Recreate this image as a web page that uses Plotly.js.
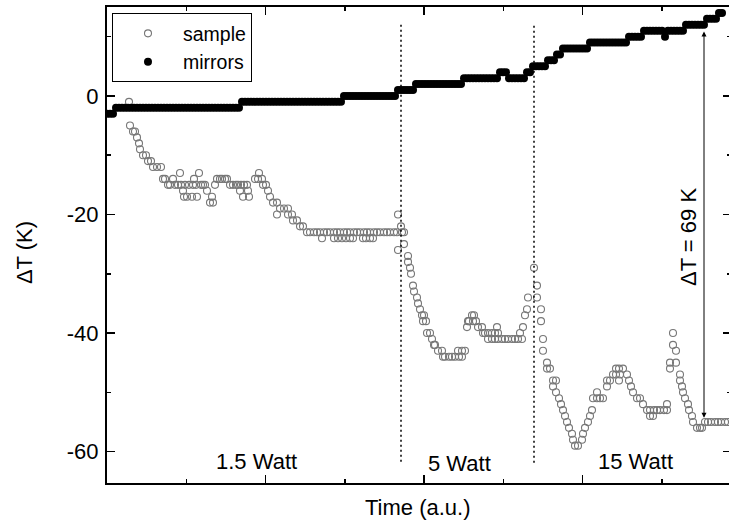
<!DOCTYPE html>
<html>
<head>
<meta charset="utf-8">
<script src="https://cdn.plot.ly/plotly-3.0.1.min.js"></script>
<style>html,body{margin:0;padding:0;overflow:hidden;background:#fff;}</style>
</head>
<body>
<div id="chart" style="width:731px;height:524px;"></div>
<script>
// ---- data (time in arbitrary units) ----
const sampleTime = [
22,23,26,28,30,32,33,36,39,41,
44,46,50,54,56,58,61,63,66,68,
71,73,74,76,77,78,80,82,85,86,
87,89,90,92,94,96,98,100,103,105,
106,108,110,113,115,118,120,123,126,129,
131,133,134,136,137,140,141,142,148,151,
152,155,156,159,161,163,166,170,170,173,
177,181,181,185,186,190,193,196,200,203,
207,210,213,215,217,220,223,227,227,230,
231,233,235,237,239,240,243,243,246,247,
250,253,256,257,259,260,263,263,266,267,
270,273,277,280,283,287,290,291,291,294,
295,297,297,301,301,303,304,306,307,310,
311,313,315,316,317,319,320,323,325,327,
328,331,335,336,338,342,345,348,351,352,
355,355,358,360,361,362,365,366,367,369,
371,375,376,378,381,381,385,385,388,388,
390,391,391,395,398,401,405,408,411,413,
415,416,418,420,421,427,430,430,434,434,
436,436,440,440,443,446,446,449,449,452,
454,456,458,460,462,465,466,468,471,475,
476,478,481,483,485,486,490,490,493,496,
500,500,503,506,509,509,512,512,513,516,
520,522,524,526,530,533,536,540,543,543,
546,547,550,553,557,560,560,563,563,566,
566,569,569,573,573,575,576,578,581,582,
585,586,590,593,595,598,601,604,608,611,
614,618,621];
const sampleDT = [
-1,-5,-6,-6,-7,-8,-9,-10,-10,-11,
-11,-12,-12,-12,-14,-14,-15,-15,-14,-15,
-15,-13,-15,-16,-17,-15,-17,-15,-17,-15,
-14,-15,-17,-13,-15,-15,-15,-16,-18,-17,
-18,-15,-14,-14,-14,-14,-14,-15,-15,-15,
-15,-16,-15,-17,-15,-15,-16,-17,-14,-14,
-13,-14,-15,-15,-16,-17,-18,-18,-20,-19,
-19,-19,-20,-20,-21,-21,-22,-22,-23,-23,
-23,-23,-23,-24,-23,-23,-23,-23,-24,-23,
-24,-23,-24,-23,-24,-23,-23,-24,-24,-23,
-23,-23,-24,-23,-24,-23,-23,-24,-24,-23,
-23,-23,-23,-23,-23,-23,-23,-20,-26,-22,
-23,-23,-25,-27,-28,-29,-30,-32,-33,-34,
-35,-36,-37,-38,-37,-38,-40,-40,-41,-42,
-42,-43,-43,-44,-44,-44,-44,-44,-43,-44,
-44,-43,-43,-39,-38,-38,-37,-38,-37,-38,
-39,-39,-40,-40,-40,-41,-40,-41,-40,-41,
-39,-40,-41,-41,-41,-41,-41,-41,-41,-40,
-41,-39,-37,-36,-34,-29,-32,-34,-36,-38,
-41,-43,-45,-46,-46,-48,-49,-48,-50,-51,
-52,-53,-54,-55,-56,-57,-58,-59,-59,-58,
-57,-56,-55,-54,-53,-51,-51,-50,-51,-51,
-49,-48,-48,-47,-46,-47,-46,-48,-47,-46,
-47,-48,-49,-50,-51,-51,-52,-53,-53,-54,
-54,-53,-53,-53,-53,-52,-53,-45,-46,-40,
-42,-43,-45,-47,-48,-49,-50,-51,-52,-53,
-54,-55,-56,-56,-56,-55,-55,-55,-55,-55,
-55,-55,-55];

const mirrorsTime = [
0,3,6,
9,12,15,18,21,24,27,30,33,36,39,42,45,48,51,54,57,60,63,66,69,72,75,78,81,84,87,90,93,96,99,102,105,108,111,114,117,120,123,126,129,132,135,138,
141,144,147,150,153,156,159,162,165,168,171,174,177,180,183,186,189,192,195,198,201,204,207,210,213,216,219,222,225,228,231,234,237,240,
243,246,249,252,255,258,261,264,267,270,273,276,279,282,285,288,291,294,
297,300,303,306,309,312,
315,318,321,324,327,330,333,336,339,342,345,348,351,354,357,360,
363,366,369,372,375,378,381,384,387,390,393,396,
399,402,405,
408,411,414,417,420,423,
426,429,
432,435,438,441,444,
447,450,453,
456,459,
462,465,468,471,474,477,480,483,486,
489,492,495,498,501,504,507,510,513,516,519,522,525,
528,531,534,537,540,
543,546,549,552,555,558,561,
564,
567,570,573,576,579,582,
585,588,591,594,597,600,603,
606,609,612,615,
618,621];
const mirrorsDT = [
-3,-3,-3,
-2,-2,-2,-2,-2,-2,-2,-2,-2,-2,-2,-2,-2,-2,-2,-2,-2,-2,-2,-2,-2,-2,-2,-2,-2,-2,-2,-2,-2,-2,-2,-2,-2,-2,-2,-2,-2,-2,-2,-2,-2,-2,
-1,-1,-1,-1,-1,-1,-1,-1,-1,-1,-1,-1,-1,-1,-1,-1,-1,-1,-1,-1,-1,-1,-1,-1,-1,-1,-1,-1,-1,-1,-1,-1,-1,-1,
0,0,0,0,0,0,0,0,0,0,0,0,0,0,0,0,0,0,
1,1,1,1,1,1,
2,2,2,2,2,2,2,2,2,2,2,2,2,2,2,2,
3,3,3,3,3,3,3,3,3,3,3,3,
4,4,4,
3,3,3,3,3,3,
4,4,
5,5,5,5,5,
6,6,6,
7,7,
8,8,8,8,8,8,8,8,8,
9,9,9,9,9,9,9,9,9,9,9,9,9,
10,10,10,10,10,
11,11,11,11,11,11,11,
10,
11,11,11,11,11,11,
12,12,12,12,12,12,12,
13,13,13,13,
14,14];

const yTickValues = [-60, -40, -20, 0];
const yTickLabels = ['-60', '-40', '-20', '0'];

const powerSwitchTime = [294, 427];
const powerLabels = ['1.5 Watt', '5 Watt', '15 Watt'];
const powerLabelTime = [149, 352, 528];
const deltaTime = 597;
const deltaTop = 11.1;
const deltaBottom = -54.3;
const deltaLabel = 'ΔT = 69 K';

// ---- chart ----
const FONT = '"Liberation Sans", Arial, Helvetica, sans-serif';

const traces = [
  {
    x: sampleTime, y: sampleDT, name: 'sample', type: 'scatter', mode: 'markers',
    marker: {symbol: 'circle-open', size: 7, color: '#777777', line: {width: 1.1, color: '#777777'}}
  },
  {
    x: mirrorsTime, y: mirrorsDT, name: 'mirrors', type: 'scatter', mode: 'markers',
    marker: {symbol: 'circle', size: 8, color: '#000000'}
  }
];

const shapes = powerSwitchTime.map((t, i) => ({
  type: 'line', xref: 'x', yref: 'y', x0: t, x1: t,
  y0: i === 0 ? -61.7 : -61.9, y1: i === 0 ? 12.5 : 12.1,
  line: {color: '#000', width: 1.5, dash: '2px,3px'}
}));

const labelY = [-61.7, -62.0, -61.7];
const annotations = powerLabels.map((txt, i) => ({
  text: txt, xref: 'x', yref: 'y', x: powerLabelTime[i], y: labelY[i],
  showarrow: false, xanchor: 'center', yanchor: 'middle',
  font: {family: FONT, size: 22, color: '#000'}
}));

annotations.push({
  xref: 'x', yref: 'y', axref: 'x', ayref: 'y',
  x: deltaTime, y: deltaBottom, ax: deltaTime, ay: deltaTop,
  text: '', showarrow: true, arrowhead: 2, arrowside: 'end+start',
  arrowsize: 1, arrowwidth: 1, arrowcolor: '#000', standoff: 0, startstandoff: 0
});
annotations.push({
  text: deltaLabel, xref: 'x', yref: 'y', x: 581, y: -23.8, textangle: -90,
  showarrow: false, xanchor: 'center', yanchor: 'middle',
  font: {family: FONT, size: 22, color: '#000'}
});
annotations.push({
  text: 'ΔT (K)', xref: 'paper', yref: 'paper', x: -0.1330, y: 0.483, textangle: -90,
  showarrow: false, xanchor: 'center', yanchor: 'middle',
  font: {family: FONT, size: 22, color: '#000'}
});
annotations.push({
  text: 'Time (a.u.)', xref: 'paper', yref: 'paper', x: 0.499, y: -0.0525,
  showarrow: false, xanchor: 'center', yanchor: 'middle',
  font: {family: FONT, size: 22, color: '#000'}
});

const layout = {
  width: 731, height: 524,
  margin: {l: 107, r: 0, t: 7, b: 41},
  paper_bgcolor: '#fff', plot_bgcolor: '#fff',
  font: {family: FONT, size: 22, color: '#000'},
  showlegend: true,
  legend: {
    x: 0.008, y: 0.987, xanchor: 'left', yanchor: 'top',
    bordercolor: '#000', borderwidth: 1, bgcolor: '#fff',
    font: {family: FONT, size: 19.5, color: '#000'},
    itemsizing: 'trace', itemwidth: 60
  },
  xaxis: {
    range: [0, 624], showgrid: false, zeroline: false,
    showline: true, linewidth: 2, linecolor: '#000', mirror: 'ticks',
    ticks: 'inside', tick0: 0, dtick: 158.5, ticklen: 8, tickwidth: 1.5, tickcolor: '#000',
    minor: {dtick: 79.25, ticks: 'inside', ticklen: 4, tickwidth: 1.5, tickcolor: '#000'},
    showticklabels: false
  },
  yaxis: {
    range: [-65.3, 15], showgrid: false, zeroline: false,
    showline: true, linewidth: 2, linecolor: '#000', mirror: 'ticks',
    ticks: 'inside', tickmode: 'array', tickvals: yTickValues, ticktext: yTickLabels,
    ticklen: 8, tickwidth: 1.5, tickcolor: '#000',
    minor: {tickmode: 'linear', tick0: 0, dtick: 10, ticks: 'inside', ticklen: 4, tickwidth: 1.5, tickcolor: '#000'},
    tickfont: {family: FONT, size: 22, color: '#000'},
    ticklabelstandoff: 2
  },
  shapes: shapes,
  annotations: annotations
};

Plotly.newPlot('chart', traces, layout, {displayModeBar: false, staticPlot: true});
</script>
</body>
</html>
